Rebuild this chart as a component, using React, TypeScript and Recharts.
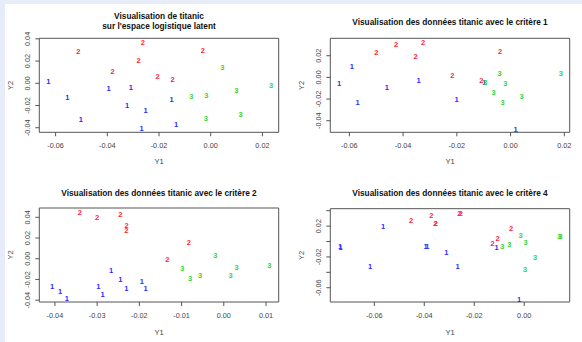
import { ScatterChart, Scatter, XAxis, YAxis, ReferenceArea } from 'recharts'

const W = 291
const H = 171
const FONT = '"Liberation Sans", Arial, sans-serif'

// panel 1 : espace logistique latent
const p1Y1 = [-0.0628, -0.0512, -0.0263, -0.003, -0.0279, -0.038, 0.0045, -0.0205, -0.0147, 0.0234, -0.0395, -0.0309, 0.0099, -0.0555, -0.0075, -0.0017, -0.0151, -0.0323, -0.0252, 0.0116, -0.0502, -0.0019, -0.0134, -0.0267]
const p1Y2 = [0.002, 0.0282, 0.0366, 0.0295, 0.0208, 0.0107, 0.0143, 0.0059, 0.0036, -0.0024, -0.0051, -0.0042, -0.0066, -0.0125, -0.0116, -0.0107, -0.0149, -0.02, -0.0247, -0.0283, -0.0328, -0.0321, -0.037, -0.0405]
const p1Lab = [1, 2, 2, 2, 2, 2, 3, 2, 2, 3, 1, 1, 3, 1, 3, 3, 1, 1, 1, 3, 1, 3, 1, 1]

// panel 2 : critère 1
const p2Y1 = [-0.0426, -0.0326, -0.05, -0.0354, -0.0039, -0.0591, -0.0041, 0.0187, -0.0217, -0.0342, -0.0109, -0.0098, -0.0094, -0.0638, -0.002, -0.0461, -0.0063, 0.0041, -0.0201, -0.0569, -0.003, 0.0019]
const p2Y2 = [0.0305, 0.0326, 0.0231, 0.0197, 0.0236, 0.0098, 0.004, 0.0033, 0.0018, -0.0028, -0.0025, -0.0044, -0.0048, -0.0059, -0.0053, -0.009, -0.0142, -0.0175, -0.0203, -0.0228, -0.0231, -0.048]
const p2Lab = [2, 2, 2, 2, 2, 1, 3, 3, 2, 1, 2, 1, 3, 1, 3, 1, 3, 3, 1, 1, 3, 1]

// panel 3 : critère 2
const p3Y1 = [-0.0341, -0.03, -0.0245, -0.023, -0.0231, -0.0083, -0.0134, -0.002, -0.0098, 0.003, 0.0108, -0.008, -0.0056, 0.0016, -0.0267, -0.0245, -0.0297, -0.0407, -0.0388, -0.0372, -0.0287, -0.0231, -0.0194, -0.0185]
const p3Y2 = [0.0442, 0.0397, 0.0432, 0.0317, 0.0272, 0.016, -0.001, 0.0035, -0.0096, -0.008, -0.0061, -0.0189, -0.0166, -0.016, -0.0118, -0.0198, -0.0266, -0.0266, -0.032, -0.0384, -0.0346, -0.0285, -0.0224, -0.0285]
const p3Lab = [2, 2, 2, 2, 2, 2, 2, 3, 3, 3, 3, 3, 3, 3, 1, 1, 1, 1, 1, 1, 1, 1, 1, 1]

// panel 4 : critère 4
const p4Y1 = [-0.0737, -0.0735, -0.0565, -0.0453, -0.0372, -0.0356, -0.0354, -0.026, -0.0254, -0.0395, -0.0388, -0.0312, -0.0267, -0.0617, -0.0053, -0.0107, -0.0127, -0.0111, -0.0088, -0.006, -0.0015, 0.0005, 0.0043, 0.0003, 0.014, 0.0146, -0.0021]
const p4Y2 = [-0.0068, -0.008, 0.0192, 0.027, 0.0335, 0.0231, 0.0228, 0.037, 0.037, -0.0071, -0.0071, -0.0145, -0.0318, -0.0318, 0.0175, 0.0037, -0.0028, -0.008, -0.0067, -0.0045, 0.008, -0.0015, -0.021, -0.0365, 0.0067, 0.0067, -0.075]
const p4Lab = [1, 1, 1, 2, 2, 2, 2, 2, 2, 1, 1, 1, 1, 1, 2, 2, 2, 1, 3, 3, 3, 3, 3, 3, 3, 3, 1]

const COLORS: Record<number, string> = { 1: '#2b2dff', 2: '#ff2438', 3: '#36d436' }

const rows = (xs: number[], ys: number[], labs: number[]) =>
  xs.map((x, i) => ({ x, y: ys[i], label: labs[i] }))

const fmt = (v: number) => (Math.abs(v) < 1e-9 ? '0.00' : v.toFixed(2))

function Digit(props: any) {
  const { cx, cy, payload } = props
  return (
    <text x={cx} y={cy} textAnchor="middle" dominantBaseline="central" fontSize={7.5} fontWeight="bold" fontFamily={FONT} fill={COLORS[payload.label]}>
      {payload.label}
    </text>
  )
}

function Panel({ left, top, data, xDomain, yDomain, xTicks, yTicks, yShown, title, boxTop, boxBottom }: any) {
  const plotLeft = 39.3
  const plotRight = 278.7
  const mid = (plotLeft + plotRight) / 2
  const XTick = (p: any) => (
    <text x={p.x} y={boxBottom + 13} textAnchor="middle" dominantBaseline="central" fontSize={7.3} fill="#444" fontFamily={FONT}>
      {fmt(p.payload.value)}
    </text>
  )
  const YTick = (p: any) => {
    const v = p.payload.value
    if (yShown && !yShown.some((s: number) => Math.abs(s - v) < 1e-9)) return <g />
    return (
      <text x={27.7} y={p.y} transform={`rotate(-90, 27.7, ${p.y})`} textAnchor="middle" dominantBaseline="central" fontSize={7.3} fill="#444" fontFamily={FONT}>
        {fmt(v)}
      </text>
    )
  }
  return (
    <div style={{ position: 'absolute', left, top, width: W, height: H }}>
      <ScatterChart width={W} height={H} margin={{ top: boxTop, bottom: H - boxBottom - 30, left: plotLeft - 30, right: W - plotRight }}>
        <XAxis type="number" dataKey="x" domain={xDomain} ticks={xTicks} allowDataOverflow axisLine={false} tickSize={4} tickLine={{ stroke: '#555' }} tick={XTick} height={30} interval={0} />
        <YAxis type="number" dataKey="y" domain={yDomain} ticks={yTicks} allowDataOverflow axisLine={false} tickSize={4} tickLine={{ stroke: '#555' }} tick={YTick} width={30} interval={0} />
        <ReferenceArea x1={xDomain[0]} x2={xDomain[1]} y1={yDomain[0]} y2={yDomain[1]} fill="none" stroke="#555" strokeWidth={1} fillOpacity={0} />
        <Scatter data={data} shape={Digit} isAnimationActive={false} />
      </ScatterChart>
      <svg width={W} height={H} style={{ position: 'absolute', left: 0, top: 0, pointerEvents: 'none' }}>
        {title.map((t: string, i: number) => (
          <text key={i} x={mid} y={title.length === 1 ? 22 : 15.7 + i * 10} textAnchor="middle" dominantBaseline="central" fontSize={8.3} fontWeight="bold" fontFamily={FONT} fill="#111">
            {t}
          </text>
        ))}
        <text x={mid} y={161} textAnchor="middle" dominantBaseline="central" fontSize={7.5} fill="#444" fontFamily={FONT}>Y1</text>
        <text x={10.7} y={(boxTop + boxBottom) / 2} transform={`rotate(-90, 10.7, ${(boxTop + boxBottom) / 2})`} textAnchor="middle" dominantBaseline="central" fontSize={7.5} fill="#444" fontFamily={FONT}>Y2</text>
      </svg>
    </div>
  )
}

export default function App() {
  return (
    <div style={{ position: 'absolute', left: 0, top: 0, width: 582, height: 342, background: '#e7edf8', overflow: 'hidden' }}>
      <div style={{ position: 'absolute', left: 5, top: 4, width: 577, height: 338, background: '#fff' }} />
      <Panel left={0} top={0} data={rows(p1Y1, p1Y2, p1Lab)} xDomain={[-0.0663, 0.0263]} yDomain={[-0.0441, 0.0405]}
        xTicks={[-0.06, -0.04, -0.02, 0, 0.02]} yTicks={[-0.04, -0.02, 0, 0.02, 0.04]}
        title={['Visualisation de titanic', "sur l'espace logistique latent"]} boxTop={38.3} boxBottom={132.3} />
      <Panel left={291} top={0} data={rows(p2Y1, p2Y2, p2Lab)} xDomain={[-0.0671, 0.022]} yDomain={[-0.0507, 0.0361]}
        xTicks={[-0.06, -0.04, -0.02, 0, 0.02]} yTicks={[-0.04, -0.02, 0, 0.02]}
        title={['Visualisation des données titanic avec le critère 1']} boxTop={38.3} boxBottom={132.3} />
      <Panel left={0} top={171} data={rows(p3Y1, p3Y2, p3Lab)} xDomain={[-0.0437, 0.013]} yDomain={[-0.0418, 0.049]}
        xTicks={[-0.04, -0.03, -0.02, -0.01, 0, 0.01]} yTicks={[-0.04, -0.02, 0, 0.02, 0.04]}
        title={['Visualisation des données titanic avec le critère 2']} boxTop={37} boxBottom={131} />
      <Panel left={291} top={171} data={rows(p4Y1, p4Y2, p4Lab)} xDomain={[-0.0776, 0.0182]} yDomain={[-0.0785, 0.0426]}
        xTicks={[-0.06, -0.04, -0.02, 0]} yTicks={[-0.06, -0.04, -0.02, 0, 0.02, 0.04]} yShown={[0.02, -0.02, -0.06]}
        title={['Visualisation des données titanic avec le critère 4']} boxTop={37.7} boxBottom={131} />
    </div>
  )
}
